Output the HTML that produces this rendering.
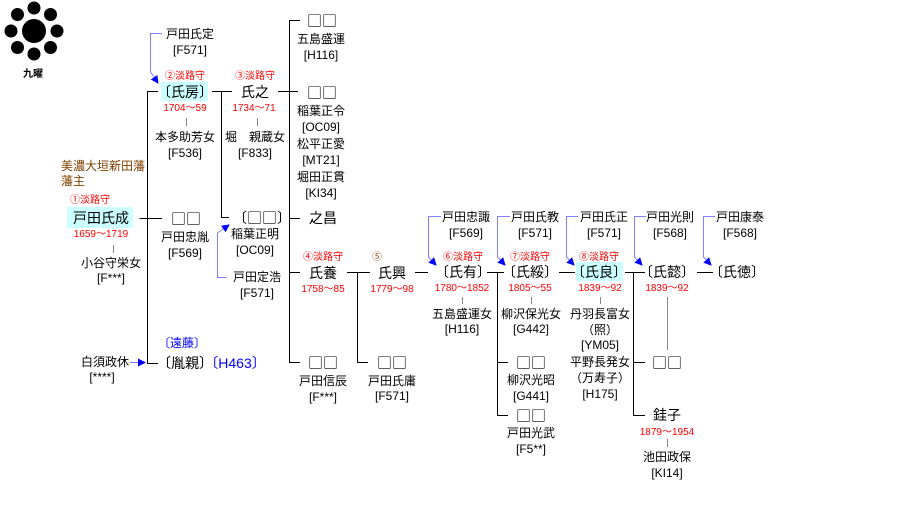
<!DOCTYPE html>
<html><head><meta charset="utf-8"><style>
html,body{margin:0;padding:0;background:#fff;}
svg{display:block;}
text{font-family:"Liberation Sans","Noto Sans CJK JP",sans-serif;text-anchor:middle;}
.n{font-size:14px;fill:#000;}
.s{font-size:12px;fill:#000;}
.y{font-size:10px;fill:#f00;}
.t{font-size:10px;fill:#f00;}
.b{font-size:10px;fill:#8B4513;}
.q{font-family:"Noto Sans CJK JP","WenQuanYi Zen Hei",sans-serif;font-size:15px;}
</style></head><body>
<svg width="904" height="505" viewBox="0 0 904 505" xmlns="http://www.w3.org/2000/svg">
<defs>
<marker id="ar" markerWidth="8" markerHeight="8" refX="7" refY="4" orient="auto" markerUnits="userSpaceOnUse"><path d="M0,0 L8,4 L0,8 z" fill="#0000ff"/></marker>
</defs>
<!-- crest -->
<g fill="#000">
<circle cx="34" cy="31" r="12"/>
<circle cx="34" cy="8" r="6.5"/><circle cx="34" cy="54" r="6.5"/>
<circle cx="11" cy="31" r="6.5"/><circle cx="57" cy="31" r="6.5"/>
<circle cx="17.5" cy="14.5" r="6.5"/><circle cx="50.5" cy="14.5" r="6.5"/>
<circle cx="17.5" cy="47.5" r="6.5"/><circle cx="50.5" cy="47.5" r="6.5"/>
</g>
<text x="33" y="77" style="font-size:10px;font-weight:bold">九曜</text>

<!-- highlights -->
<rect x="67" y="207" width="66" height="21" fill="#ccffff"/>
<rect x="161" y="82" width="47" height="19" fill="#ccffff"/>
<rect x="576" y="262" width="47" height="19" fill="#ccffff"/>

<!-- black lines -->
<g stroke="#000" stroke-width="1" fill="none">
<path d="M139.5,218.5 H162"/>
<path d="M158,91.5 H147.5 V363.5 H158"/>
<path d="M147.5,218.5 H162"/>
<path d="M212,91.5 H232"/>
<path d="M221.5,91.5 V217.5 H229"/>
<path d="M278,91.5 H298"/>
<path d="M300,20.5 H289.5 V362.5 H300"/>
<path d="M289.5,218.5 H300"/>
<path d="M289.5,272.5 H300"/>
<path d="M347,272.5 H370"/>
<path d="M357.5,272.5 V362.5 H368"/>
<path d="M415,272.5 H428"/>
<path d="M487,272.5 H504"/>
<path d="M497.5,272.5 V415.5 H508"/>
<path d="M497.5,362.5 H508"/>
<path d="M559,272.5 H575"/>
<path d="M625,272.5 H645"/>
<path d="M633.5,272.5 V415.5 H645"/>
<path d="M633.5,362.5 H645"/>
<path d="M697,272.5 H713"/>
</g>
<!-- gray ticks -->
<g stroke="#888" stroke-width="1">
<path d="M186.5,118 V126"/><path d="M257.5,118 V126"/>
<path d="M113.5,245 V253"/>
<path d="M462.5,297 V304"/><path d="M531.5,297 V304"/><path d="M600.5,297 V304"/>
<path d="M667.5,297 V350"/><path d="M667.5,439 V447"/>
</g>
<!-- blue arrows -->
<g stroke="#8080ff" stroke-width="1" fill="none" marker-end="url(#ar)">
<path d="M162,33.5 H150.5 V72 L158,83"/>
<path d="M227,277.5 H217.5 V233 L229,225"/>
<path d="M130,362.5 H145"/>
<path d="M441,216.5 H428.5 V257 L436,265"/>
<path d="M510,216.5 H497.5 V257 L505,265"/>
<path d="M578,216.5 H566.5 V257 L574,265"/>
<path d="M646,216.5 H634.5 V257 L642,265"/>
<path d="M715,216.5 H703.5 V257 L711,265"/>
</g>

<!-- texts -->
<text class="s" x="190" y="38">戸田氏定</text><text class="s" x="190" y="54">[F571]</text>
<text class="t" x="185" y="79">②淡路守</text>
<text class="n" x="185" y="97">〔氏房〕</text>
<text class="y" x="185" y="111">1704～59</text>
<text class="s" x="185" y="141">本多助芳女</text><text class="s" x="185" y="157">[F536]</text>

<text class="t" x="255" y="79">③淡路守</text>
<text class="n" x="255" y="97">氏之</text>
<text class="y" x="254" y="111">1734～71</text>
<text class="s" x="255" y="141">堀　親蔵女</text><text class="s" x="255" y="157">[F833]</text>

<text class="n q" x="322" y="26">□□</text>
<text class="s" x="321" y="43">五島盛運</text><text class="s" x="321" y="59">[H116]</text>
<text class="n q" x="322" y="98">□□</text>
<text class="s" x="321" y="115">稲葉正令</text><text class="s" x="321" y="131">[OC09]</text>
<text class="s" x="321" y="148">松平正愛</text><text class="s" x="321" y="164">[MT21]</text>
<text class="s" x="321" y="181">堀田正貫</text><text class="s" x="321" y="197">[KI34]</text>
<text class="n" x="323" y="223">之昌</text>

<text x="61" y="170" style="font-size:12px;fill:#804000;text-anchor:start">美濃大垣新田藩</text>
<text x="61" y="185" style="font-size:12px;fill:#804000;text-anchor:start">藩主</text>
<text class="t" x="90" y="203">①淡路守</text>
<text class="n" x="101" y="223">戸田氏成</text>
<text class="y" x="101" y="237">1659～1719</text>
<text class="s" x="111" y="267">小谷守栄女</text><text class="s" x="111" y="282">[F***]</text>

<text class="n q" x="186" y="224">□□</text>
<text class="s" x="185" y="241">戸田忠胤</text><text class="s" x="185" y="257">[F569]</text>

<text class="n" x="233" y="223" style="text-anchor:start">〔<tspan class="q">□□</tspan>〕</text>
<text class="s" x="255" y="238">稲葉正明</text><text class="s" x="255" y="254">[OC09]</text>
<text class="s" x="257" y="281">戸田定浩</text><text class="s" x="257" y="297">[F571]</text>

<text class="s" x="182" y="347" style="fill:#0000ff">〔遠藤〕</text>
<text class="n" x="185" y="368">〔胤親〕</text>
<text class="n" x="235" y="368" style="fill:#0000ff">〔H463〕</text>
<text class="s" x="105" y="366">白須政休</text><text class="s" x="102" y="381">[****]</text>

<text class="t" x="323" y="260">④淡路守</text>
<text class="n" x="323" y="278">氏養</text>
<text class="y" x="323" y="292">1758～85</text>
<text class="n q" x="323" y="368">□□</text>
<text class="s" x="323" y="385">戸田信辰</text><text class="s" x="323" y="401">[F***]</text>

<text class="b" x="377" y="260">⑤</text>
<text class="n" x="392" y="278">氏興</text>
<text class="y" x="392" y="292">1779～98</text>
<text class="n q" x="392" y="368">□□</text>
<text class="s" x="392" y="385">戸田氏庸</text><text class="s" x="392" y="400">[F571]</text>

<text class="s" x="466" y="221">戸田忠諏</text><text class="s" x="466" y="237">[F569]</text>
<text class="t" x="463" y="260">⑥淡路守</text>
<text class="n" x="463" y="277">〔氏有〕</text>
<text class="y" x="462" y="291">1780～1852</text>
<text class="s" x="462" y="318">五島盛運女</text><text class="s" x="462" y="333">[H116]</text>

<text class="s" x="535" y="221">戸田氏教</text><text class="s" x="535" y="237">[F571]</text>
<text class="t" x="530" y="260">⑦淡路守</text>
<text class="n" x="530" y="277">〔氏綏〕</text>
<text class="y" x="530" y="291">1805～55</text>
<text class="s" x="531" y="318">柳沢保光女</text><text class="s" x="531" y="333">[G442]</text>
<text class="n q" x="531" y="368">□□</text>
<text class="s" x="531" y="384">柳沢光昭</text><text class="s" x="531" y="400">[G441]</text>
<text class="n q" x="531" y="421">□□</text>
<text class="s" x="531" y="437">戸田光武</text><text class="s" x="531" y="453">[F5**]</text>

<text class="s" x="604" y="221">戸田氏正</text><text class="s" x="604" y="237">[F571]</text>
<text class="t" x="599" y="260">⑧淡路守</text>
<text class="n" x="599" y="277">〔氏良〕</text>
<text class="y" x="600" y="291">1839～92</text>
<text class="s" x="600" y="318">丹羽長富女</text><text class="s" x="600" y="334">（照）</text><text class="s" x="600" y="349">[YM05]</text>
<text class="s" x="600" y="366">平野長発女</text><text class="s" x="600" y="382">（万寿子）</text><text class="s" x="600" y="398">[H175]</text>

<text class="s" x="670" y="221">戸田光則</text><text class="s" x="670" y="237">[F568]</text>
<text class="n" x="667" y="277">〔氏懿〕</text>
<text class="y" x="667" y="291">1839～92</text>
<text class="n q" x="667" y="368">□□</text>
<text class="n" x="667" y="420">銈子</text>
<text class="y" x="667" y="435">1879～1954</text>
<text class="s" x="667" y="461">池田政保</text><text class="s" x="667" y="477">[KI14]</text>

<text class="s" x="740" y="221">戸田康泰</text><text class="s" x="740" y="237">[F568]</text>
<text class="n" x="737" y="277">〔氏徳〕</text>
</svg>
</body></html>
